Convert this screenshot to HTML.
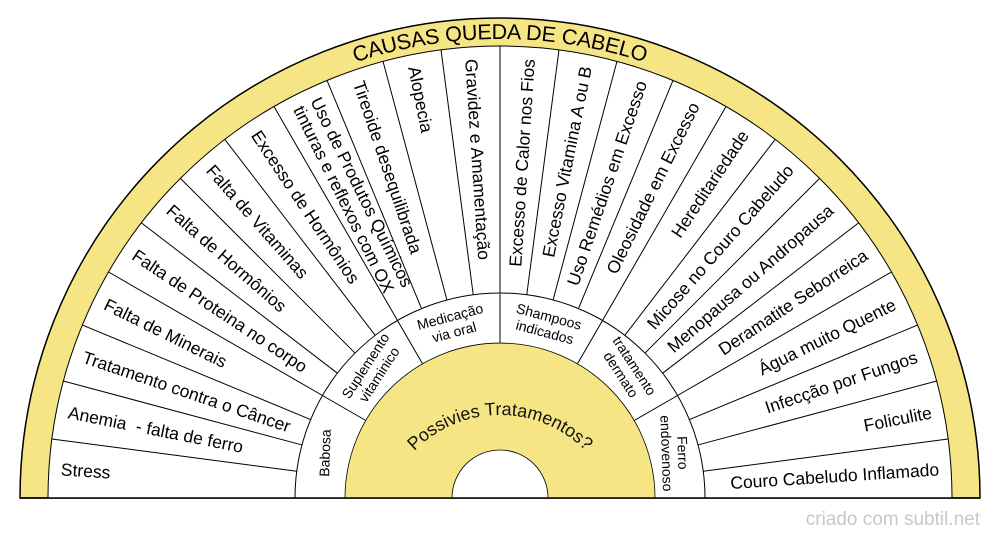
<!DOCTYPE html>
<html><head><meta charset="utf-8"><style>
html,body{margin:0;padding:0;background:#fff;}
svg{display:block;font-family:"Liberation Sans",sans-serif;}
</style></head><body>
<svg width="1000" height="540" viewBox="0 0 1000 540" xmlns="http://www.w3.org/2000/svg">
<defs>
<path id="tarc" d="M 34 498 A 466 466 0 0 1 966 498"/>
<path id="iarc" d="M 380 535 A 120 120 0 0 1 620 535"/>
</defs>
<path d="M 20 498 A 480 480 0 0 1 980 498 Z" fill="#f6e584" stroke="#000" stroke-width="1.5"/>
<path d="M 48 498 A 452 452 0 0 1 952 498 Z" fill="#fff" stroke="#000" stroke-width="1"/>
<path d="M 295 498 A 205 205 0 0 1 705 498 Z" fill="#fff" stroke="#000" stroke-width="1"/>
<path d="M 345 498 A 155 155 0 0 1 655 498 Z" fill="#f6e584" stroke="#000" stroke-width="0.8"/>
<path d="M 452 498 A 48 48 0 0 1 548 498 Z" fill="#fff" stroke="#000" stroke-width="0.8"/>
<line x1="20" y1="498" x2="980" y2="498" stroke="#000" stroke-width="1.5"/>
<g stroke="#000" stroke-width="1">
<line x1="48" y1="498" x2="295" y2="498" transform="rotate(7.5 500 498)"/>
<line x1="48" y1="498" x2="295" y2="498" transform="rotate(15 500 498)"/>
<line x1="48" y1="498" x2="295" y2="498" transform="rotate(22.5 500 498)"/>
<line x1="48" y1="498" x2="295" y2="498" transform="rotate(30 500 498)"/>
<line x1="48" y1="498" x2="295" y2="498" transform="rotate(37.5 500 498)"/>
<line x1="48" y1="498" x2="295" y2="498" transform="rotate(45 500 498)"/>
<line x1="48" y1="498" x2="295" y2="498" transform="rotate(52.5 500 498)"/>
<line x1="48" y1="498" x2="295" y2="498" transform="rotate(60 500 498)"/>
<line x1="48" y1="498" x2="295" y2="498" transform="rotate(67.5 500 498)"/>
<line x1="48" y1="498" x2="295" y2="498" transform="rotate(75 500 498)"/>
<line x1="48" y1="498" x2="295" y2="498" transform="rotate(82.5 500 498)"/>
<line x1="48" y1="498" x2="295" y2="498" transform="rotate(90 500 498)"/>
<line x1="48" y1="498" x2="295" y2="498" transform="rotate(97.5 500 498)"/>
<line x1="48" y1="498" x2="295" y2="498" transform="rotate(105 500 498)"/>
<line x1="48" y1="498" x2="295" y2="498" transform="rotate(112.5 500 498)"/>
<line x1="48" y1="498" x2="295" y2="498" transform="rotate(120 500 498)"/>
<line x1="48" y1="498" x2="295" y2="498" transform="rotate(127.5 500 498)"/>
<line x1="48" y1="498" x2="295" y2="498" transform="rotate(135 500 498)"/>
<line x1="48" y1="498" x2="295" y2="498" transform="rotate(142.5 500 498)"/>
<line x1="48" y1="498" x2="295" y2="498" transform="rotate(150 500 498)"/>
<line x1="48" y1="498" x2="295" y2="498" transform="rotate(157.5 500 498)"/>
<line x1="48" y1="498" x2="295" y2="498" transform="rotate(165 500 498)"/>
<line x1="48" y1="498" x2="295" y2="498" transform="rotate(172.5 500 498)"/>
<line x1="295" y1="498" x2="345" y2="498" transform="rotate(30 500 498)"/>
<line x1="295" y1="498" x2="345" y2="498" transform="rotate(60 500 498)"/>
<line x1="295" y1="498" x2="345" y2="498" transform="rotate(90 500 498)" stroke="#555" stroke-width="1.5"/>
<line x1="295" y1="498" x2="345" y2="498" transform="rotate(120 500 498)"/>
<line x1="295" y1="498" x2="345" y2="498" transform="rotate(150 500 498)"/>
</g>
<text font-size="21.5" fill="#000" dy="7"><textPath href="#tarc" startOffset="50%" text-anchor="middle">CAUSAS QUEDA DE CABELO</textPath></text>
<text font-size="18" fill="#111"><textPath href="#iarc" startOffset="50%" text-anchor="middle">Possivies Tratamentos?</textPath></text>
<g font-size="17.5" fill="#000">
<text transform="translate(500,498) rotate(3.75) translate(-440,0)" dy="0.35em">Stress</text>
<text transform="translate(500,498) rotate(11.25) translate(-440,0)" dy="0.35em" xml:space="preserve">Anemia  - falta de ferro</text>
<text transform="translate(500,498) rotate(18.75) translate(-440,0)" dy="0.35em">Tratamento contra o Câncer</text>
<text transform="translate(500,498) rotate(26.25) translate(-440,0)" dy="0.35em">Falta de Minerais</text>
<text transform="translate(500,498) rotate(33.75) translate(-440,0)" dy="0.35em">Falta de Proteina no corpo</text>
<text transform="translate(500,498) rotate(41.25) translate(-440,0)" dy="0.35em">Falta de Hormônios</text>
<text transform="translate(500,498) rotate(48.75) translate(-440,0)" dy="0.35em">Falta de Vitaminas</text>
<text transform="translate(500,498) rotate(56.25) translate(-440,0)" dy="0.35em">Excesso de Hormônios</text>
<text transform="translate(500,498) rotate(63.75) translate(-440,0)"><tspan x="0" dy="-0.3em">Uso de Produtos Químicos</tspan><tspan x="0" dy="1.1em">tinturas e reflexos com OX</tspan></text>
<text transform="translate(500,498) rotate(71.25) translate(-440,0)" dy="0.35em">Tireoide desequilibrada</text>
<text transform="translate(500,498) rotate(78.75) translate(-440,0)" dy="0.35em">Alopecia</text>
<text transform="translate(500,498) rotate(86.25) translate(-440,0)" dy="0.35em">Gravidez e Amamentação</text>
<text transform="translate(500,498) rotate(-86.25) translate(440,0)" dy="0.35em" text-anchor="end">Excesso de Calor nos Fios</text>
<text transform="translate(500,498) rotate(-78.75) translate(440,0)" dy="0.35em" text-anchor="end">Excesso Vitamina A ou B</text>
<text transform="translate(500,498) rotate(-71.25) translate(440,0)" dy="0.35em" text-anchor="end">Uso Remédios em Excesso</text>
<text transform="translate(500,498) rotate(-63.75) translate(440,0)" dy="0.35em" text-anchor="end">Oleosidade em Excesso</text>
<text transform="translate(500,498) rotate(-56.25) translate(440,0)" dy="0.35em" text-anchor="end">Hereditariedade</text>
<text transform="translate(500,498) rotate(-48.75) translate(440,0)" dy="0.35em" text-anchor="end">Micose no Couro Cabeludo</text>
<text transform="translate(500,498) rotate(-41.25) translate(440,0)" dy="0.35em" text-anchor="end">Menopausa ou Andropausa</text>
<text transform="translate(500,498) rotate(-33.75) translate(440,0)" dy="0.35em" text-anchor="end">Deramatite Seborreica</text>
<text transform="translate(500,498) rotate(-26.25) translate(440,0)" dy="0.35em" text-anchor="end">Água muito Quente</text>
<text transform="translate(500,498) rotate(-18.75) translate(440,0)" dy="0.35em" text-anchor="end">Infecção por Fungos</text>
<text transform="translate(500,498) rotate(-11.25) translate(440,0)" dy="0.35em" text-anchor="end">Foliculite</text>
<text transform="translate(500,498) rotate(-3.75) translate(440,0)" dy="0.35em" text-anchor="end">Couro Cabeludo Inflamado</text>
</g>
<g font-size="14" fill="#000" text-anchor="middle">
<text transform="translate(325,453) rotate(-88)" dy="0.35em">Babosa</text>
<text transform="translate(372,370) rotate(-57)"><tspan x="0" dy="-0.2em">Suplemento</tspan><tspan x="0" dy="1.15em">vitaminico</tspan></text>
<text transform="translate(452,324) rotate(-15)"><tspan x="0" dy="-0.2em">Medicação</tspan><tspan x="0" dy="1.15em">via oral</tspan></text>
<text transform="translate(547,324) rotate(15)"><tspan x="0" dy="-0.2em">Shampoos</tspan><tspan x="0" dy="1.15em">indicados</tspan></text>
<text transform="translate(628,370) rotate(57)"><tspan x="0" dy="-0.2em">tratamento</tspan><tspan x="0" dy="1.15em">dermato</tspan></text>
<text transform="translate(675,453) rotate(88)"><tspan x="0" dy="-0.2em">Ferro</tspan><tspan x="0" dy="1.15em">endovenoso</tspan></text>
</g>
<text x="980" y="525" font-size="19" fill="#c8c8c8" text-anchor="end">criado com subtil.net</text>
</svg>
</body></html>
